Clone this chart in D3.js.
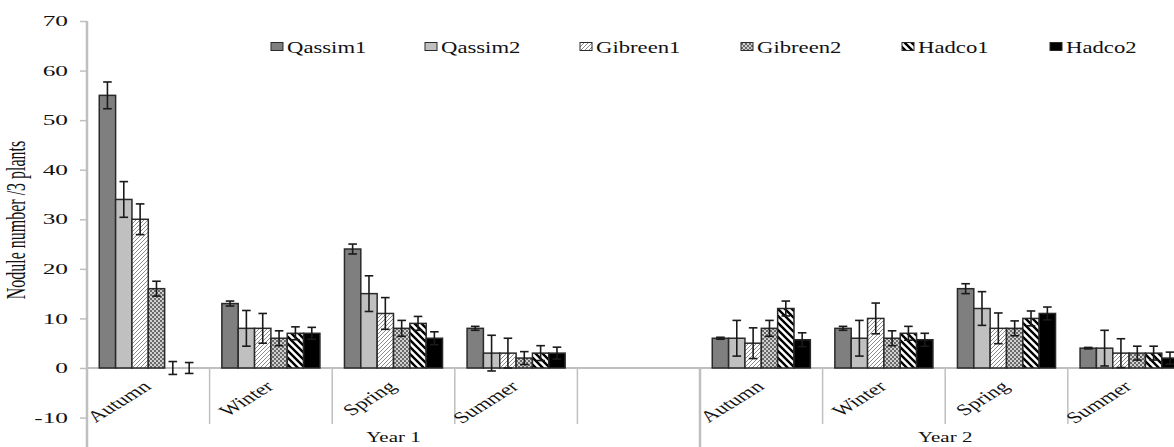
<!DOCTYPE html>
<html>
<head>
<meta charset="utf-8">
<script src="https://cdn.jsdelivr.net/npm/d3@7"></script>
<style>
  body { margin: 0; background: #fff; }
  svg { display: block; overflow: hidden; }
  text { font-family: "Liberation Serif", "Times New Roman", serif; fill: #111; }
</style>
</head>
<body>
<div id="chart"></div>
<script>
// categories: year 1 has an empty fifth slot, year 2 runs off the right edge
var seasons = ["Autumn", "Winter", "Spring", "Summer", "", "Autumn", "Winter", "Spring", "Summer"];
var years = ["Year 1", "Year 2"];
var yearSpan = [[0, 5], [5, 9]];   // first, last+1 category index of each year
var series = ["Qassim1", "Qassim2", "Gibreen1", "Gibreen2", "Hadco1", "Hadco2"];

var qassim1  = [55, 13, 24, 8, null, 6, 8, 16, 4];
var qassim2  = [34, 8, 15, 3, null, 6, 6, 12, 4];
var gibreen1 = [30, 8, 11, 3, null, 5, 10, 8, 3];
var gibreen2 = [16, 6, 8, 2, null, 8, 6, 8, 3];
var hadco1   = [0, 7, 9, 3, null, 12, 7, 10, 3];
var hadco2   = [0, 7, 6, 3, null, 5.7, 5.7, 11, 2];

var errQassim1  = [2.7, 0.5, 1, 0.4, null, 0.2, 0.4, 1, 0.15];
var errQassim2  = [3.6, 3.6, 3.6, 3.6, null, 3.6, 3.6, 3.4, 3.6];
var errGibreen1 = [3.1, 3, 3.2, 3, null, 3.1, 3.1, 3.1, 2.9];
var errGibreen2 = [1.5, 1.5, 1.6, 1.3, null, 1.6, 1.5, 1.5, 1.4];
var errHadco1   = [1.3, 1.3, 1.4, 1.5, null, 1.5, 1.4, 1.5, 1.4];
var errHadco2   = [1.1, 1.2, 1.3, 1.2, null, 1.4, 1.3, 1.3, 1.2];

var yTicks = [-10, 0, 10, 20, 30, 40, 50, 60, 70];

var values = [qassim1, qassim2, gibreen1, gibreen2, hadco1, hadco2];
var errors = [errQassim1, errQassim2, errGibreen1, errGibreen2, errHadco1, errHadco2];
var fills = ["#7f7f7f", "#c0c0c0", "url(#hatch)", "url(#check)", "url(#stripe)", "#000"];

var W = 1174, H = 447;
var left = 87, catW = 122.6;

var svg = d3.select("#chart").append("svg")
  .attr("width", W)
  .attr("height", H);

// fill patterns
var defs = svg.append("defs");
var p1 = defs.append("pattern").attr("id", "hatch")
  .attr("patternUnits", "userSpaceOnUse").attr("width", 4).attr("height", 4);
p1.append("rect").attr("width", 4).attr("height", 4).attr("fill", "#fff");
p1.append("path").attr("d", "M-1,1 l2,-2 M0,4 l4,-4 M3,5 l2,-2")
  .attr("stroke", "#8c8c8c").attr("stroke-width", 1);

var p2 = defs.append("pattern").attr("id", "check")
  .attr("patternUnits", "userSpaceOnUse").attr("width", 4).attr("height", 4);
p2.append("rect").attr("width", 4).attr("height", 4).attr("fill", "#d0d0d0");
p2.append("rect").attr("width", 2).attr("height", 2).attr("fill", "#6a6a6a");
p2.append("rect").attr("x", 2).attr("y", 2).attr("width", 2).attr("height", 2).attr("fill", "#6a6a6a");

var p3 = defs.append("pattern").attr("id", "stripe")
  .attr("patternUnits", "userSpaceOnUse").attr("width", 7).attr("height", 7);
p3.append("rect").attr("width", 7).attr("height", 7).attr("fill", "#fff");
p3.append("path").attr("d", "M-1,-1 l9,9 M-1,6 l2,2 M6,-1 l2,2")
  .attr("stroke", "#000").attr("stroke-width", 2.4);

// scales
var x0 = d3.scaleBand()
  .domain(d3.range(seasons.length))
  .range([left, left + catW * seasons.length])
  .padding(0);

var x1 = d3.scaleBand()
  .domain(d3.range(series.length))
  .range([0, x0.bandwidth()])
  .paddingInner(0)
  .paddingOuter(0.75);

var y = d3.scaleLinear()
  .domain([-16, 70])
  .range([447.3, 21]);

// y axis
var yAxis = d3.axisLeft(y).tickValues(yTicks).tickSize(7)
  .tickFormat(function (d) { return String(d); });
var gy = svg.append("g")
  .attr("transform", "translate(" + left + ",0)")
  .call(yAxis);
gy.select(".domain").remove();
gy.selectAll(".tick line").attr("stroke", "#bfbfbf").attr("stroke-width", 1.5);
gy.selectAll(".tick text")
  .attr("x", -19 / 1.75)
  .attr("transform", "scale(1.75,1)")
  .attr("fill", "#111")
  .style("font-size", "14.5px")
  .style("font-family", "'Liberation Serif', serif");

svg.append("line")
  .attr("x1", left).attr("x2", left)
  .attr("y1", y(70)).attr("y2", H)
  .attr("stroke", "#bfbfbf").attr("stroke-width", 2.5);

// zero line
svg.append("line")
  .attr("x1", left).attr("x2", W)
  .attr("y1", y(0)).attr("y2", y(0))
  .attr("stroke", "#bfbfbf").attr("stroke-width", 2);

// category dividers
var divs = d3.range(1, seasons.length + 1);
svg.selectAll(".div")
  .data(divs)
  .enter().append("line")
  .attr("class", "div")
  .attr("x1", function (d) { return x0(0) + d * x0.step(); })
  .attr("x2", function (d) { return x0(0) + d * x0.step(); })
  .attr("y1", y(0))
  .attr("y2", function (d) { return d == yearSpan[0][1] ? H : 424; })
  .attr("stroke", "#bfbfbf")
  .attr("stroke-width", function (d) { return d == yearSpan[0][1] ? 2.5 : 1.5; });

// bars
var rows = [];
for (var s = 0; s < series.length; s++) {
  for (var c = 0; c < seasons.length; c++) {
    if (values[s][c] == null) continue;
    rows.push({ s: s, c: c, v: values[s][c], e: errors[s][c] });
  }
}

svg.selectAll(".bar")
  .data(rows.filter(function (d) { return d.v > 0; }))
  .enter().append("rect")
  .attr("class", "bar")
  .attr("x", function (d) { return x0(d.c) + x1(d.s); })
  .attr("y", function (d) { return y(d.v); })
  .attr("width", x1.bandwidth())
  .attr("height", function (d) { return y(0) - y(d.v); })
  .attr("fill", function (d) { return fills[d.s]; })
  .attr("stroke", "#2a2a2a")
  .attr("stroke-width", 1.5);

// error bars
var eb = svg.selectAll(".err")
  .data(rows)
  .enter().append("g")
  .attr("class", "err")
  .attr("stroke", "#1a1a1a")
  .attr("stroke-width", 1.6);

function cx(d) { return x0(d.c) + x1(d.s) + x1.bandwidth() / 2; }
eb.append("line")
  .attr("x1", cx).attr("x2", cx)
  .attr("y1", function (d) { return y(d.v + d.e); })
  .attr("y2", function (d) { return y(d.v - d.e); });
eb.append("line")
  .attr("x1", function (d) { return cx(d) - 4.3; })
  .attr("x2", function (d) { return cx(d) + 4.3; })
  .attr("y1", function (d) { return y(d.v + d.e); })
  .attr("y2", function (d) { return y(d.v + d.e); });
eb.append("line")
  .attr("x1", function (d) { return cx(d) - 4.3; })
  .attr("x2", function (d) { return cx(d) + 4.3; })
  .attr("y1", function (d) { return y(d.v - d.e); })
  .attr("y2", function (d) { return y(d.v - d.e); });

// season labels, rotated
svg.selectAll(".season")
  .data(seasons.map(function (d, i) { return { t: d, i: i }; }).filter(function (d) { return d.t != ""; }))
  .enter().append("text")
  .attr("class", "season")
  .attr("text-anchor", "end")
  .attr("transform", function (d) {
    return "translate(" + (x0(d.i) + x0.bandwidth() / 2 + 4) + ",388) scale(1.45,1) rotate(-42)";
  })
  .style("font-size", "16px")
  .text(function (d) { return d.t; });

// year labels
svg.selectAll(".year")
  .data(years)
  .enter().append("text")
  .attr("class", "year")
  .attr("text-anchor", "middle")
  .attr("transform", function (d, i) {
    var a = x0(yearSpan[i][0]), b = x0(yearSpan[i][1] - 1) + x0.bandwidth();
    return "translate(" + ((a + b) / 2) + ",442) scale(1.4,1)";
  })
  .style("font-size", "15px")
  .text(function (d) { return d; });

// y label
svg.append("text")
  .attr("text-anchor", "middle")
  .attr("transform", "translate(25,220) scale(1.7,1) rotate(-90)")
  .style("font-size", "16px")
  .text("Nodule number /3 plants");

// legend
var legX = [271, 425, 580, 741, 902, 1050];
var leg = svg.selectAll(".leg")
  .data(series)
  .enter().append("g")
  .attr("class", "leg")
  .attr("transform", function (d, i) { return "translate(" + legX[i] + ",47)"; });
leg.append("rect")
  .attr("x", 0).attr("y", -4.5)
  .attr("width", 12).attr("height", 8)
  .attr("fill", function (d, i) { return fills[i]; })
  .attr("stroke", "#2a2a2a").attr("stroke-width", 1);
leg.append("text")
  .attr("transform", "translate(16,5.5) scale(1.42,1)")
  .style("font-size", "16px")
  .text(function (d) { return d; });
</script>
</body>
</html>
